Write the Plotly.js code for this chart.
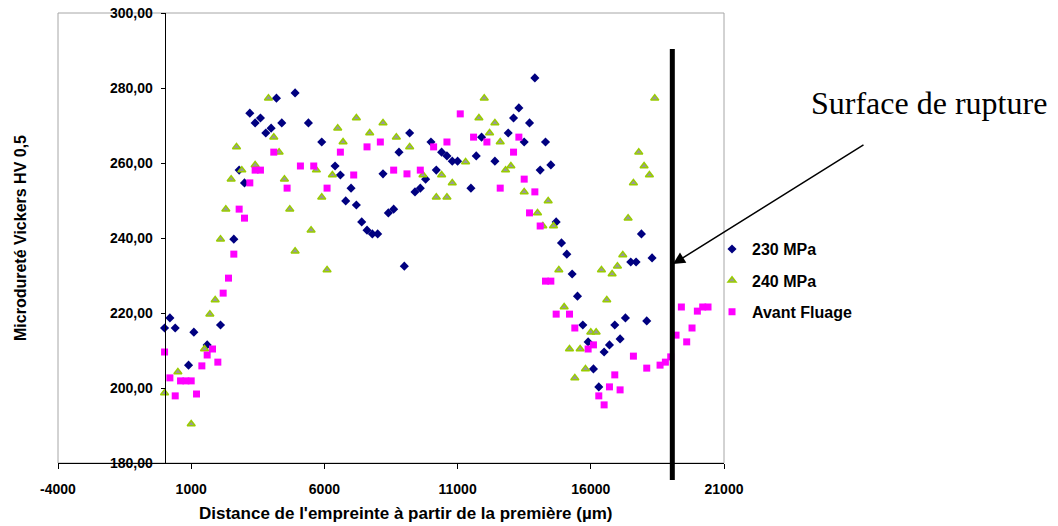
<!DOCTYPE html>
<html>
<head>
<meta charset="utf-8">
<script src="https://cdn.plot.ly/plotly-3.0.1.min.js"></script>
<style>html,body{margin:0;padding:0;background:#fff;}#chart{width:1058px;height:526px;}</style>
</head>
<body>
<div id="chart"></div>
<script>
// ---- Data ----
const x230 = [0,200,400,900,1100,1600,2100,2600,2800,3000,3200,3400,3600,3800,4000,4200,4400,4900,5400,5900,6400,6600,6800,7000,7200,7400,7600,7800,8000,8200,8400,8600,8800,9000,9200,9400,9600,9800,10000,10200,10400,10600,10800,11000,11500,11700,11900,12400,12900,13100,13300,13500,13700,13900,14100,14300,14500,14700,14900,15100,15300,15500,15700,15900,16100,16300,16500,16700,16900,17100,17300,17500,17700,17900,18100,18300];
const y230 = [216.0,218.7,216.0,206.1,214.9,211.5,216.8,239.7,258.1,254.7,273.3,270.7,272.0,268.0,269.3,277.3,270.7,278.7,270.7,265.6,259.2,256.8,249.9,253.3,248.8,244.3,242.1,241.1,241.1,257.1,246.7,247.7,262.9,232.5,268.0,252.3,253.3,255.7,265.6,258.1,262.9,261.9,260.5,260.5,253.3,261.9,266.9,260.5,268.0,272.0,274.7,265.6,270.7,282.7,258.1,265.6,259.5,244.3,238.7,235.7,230.4,224.5,216.8,212.3,205.1,200.3,209.6,211.5,216.8,213.1,218.7,233.6,233.6,241.1,217.9,234.7];

const x240 = [0,500,1000,1500,1700,1900,2100,2300,2500,2700,2900,3400,3900,4100,4300,4500,4700,4900,5500,5700,5900,6100,6300,6500,6700,7200,7700,8200,8700,9200,9700,10200,10400,10600,10800,11300,11800,12000,12200,12400,12600,12800,13000,13500,14000,14200,14400,14600,14800,15000,15200,15400,15600,15800,16000,16200,16400,16600,16800,17000,17200,17400,17600,17800,18000,18200,18400];
const y240 = [198.7,204.3,190.4,210.4,219.7,223.5,239.7,247.7,255.7,264.3,258.1,259.5,277.3,266.9,262.9,255.7,247.7,236.5,242.1,258.1,250.9,231.5,256.8,269.3,265.6,272.0,268.0,270.7,266.9,264.3,256.8,250.9,256.8,250.9,254.7,260.3,272.0,277.3,268.0,270.7,265.6,258.1,259.2,252.3,246.7,243.2,249.9,243.2,231.5,221.6,210.4,202.7,210.4,205.1,214.9,214.9,231.5,223.5,230.4,232.5,235.5,245.3,254.7,262.9,259.2,256.8,277.3];

const xAvant = [0,200,400,600,800,1000,1200,1400,1600,1800,2000,2200,2400,2600,2800,3000,3200,3400,3600,4100,4600,5100,5600,6100,6600,7100,7600,8100,8600,9100,9600,10100,10600,11100,11600,12100,12600,13100,13300,13500,13700,13900,14100,14300,14500,14700,15200,15400,15900,16100,16300,16500,16700,16900,17100,17600,18100,18600,18800,19000,19200,19400,19600,19800,20000,20200,20400];
const yAvant = [209.6,202.7,197.9,201.9,201.9,201.9,198.4,205.9,208.8,210.4,206.9,225.3,229.3,235.7,247.7,245.3,254.7,258.1,258.1,262.9,253.3,259.2,259.2,253.3,262.9,256.8,264.3,265.6,258.1,257.1,258.1,264.3,265.6,273.1,266.9,265.6,253.3,262.9,266.9,255.7,246.7,252.3,243.2,228.5,228.5,219.7,219.7,216.0,210.4,211.5,197.9,195.5,200.3,203.5,199.5,208.5,205.3,206.1,206.9,208.3,214.1,221.6,212.3,216.0,220.5,221.6,221.6];

const seriesNames = ['230 MPa', '240 MPa', 'Avant Fluage'];
const xRange = [-4000, 21000];
const yRange = [180, 300];
const xTickVals = [-4000, 1000, 6000, 11000, 16000, 21000];
const xTickText = ['-4000', '1000', '6000', '11000', '16000', '21000'];
const yTickStep = 20;
const ruptureX = 19060;
const xTitle = "Distance de l'empreinte à partir de la première (µm)";
const yTitle = 'Microdureté Vickers HV 0,5';
const ruptureLabel = 'Surface de rupture';

// ---- Chart ----
const bold = {family: 'Liberation Sans, Arial, sans-serif', size: 14, color: '#000', weight: 'bold'};

const traces = [
  {x: x230, y: y230, name: seriesNames[0], type: 'scatter', mode: 'markers', legendgroup: 'a',
   marker: {symbol: 'diamond', size: 7, color: '#000080', line: {width: 0}}},
  {x: x240, y: y240, name: seriesNames[1], type: 'scatter', mode: 'markers', legendgroup: 'b',
   marker: {symbol: 'triangle-up', size: 7, color: '#999999', line: {width: 1.5, color: '#99CC00'}}},
  {x: xAvant, y: yAvant, name: seriesNames[2], type: 'scatter', mode: 'markers', legendgroup: 'c',
   marker: {symbol: 'square', size: 7, color: '#FF00FF', line: {width: 0}}}
];

const yAxisPos = (0 - xRange[0]) / (xRange[1] - xRange[0]);
const ruptPaper = (ruptureX - xRange[0]) / (xRange[1] - xRange[0]);

const layout = {
  width: 1058, height: 526,
  margin: {l: 58, r: 334, t: 13, b: 63},
  paper_bgcolor: '#fff', plot_bgcolor: '#fff',
  separators: ', ',
  showlegend: true,
  legend: {x: 0.982, y: 0.513, xanchor: 'left', yanchor: 'top', bgcolor: 'rgba(0,0,0,0)',
           borderwidth: 0, tracegroupgap: 7.5, font: Object.assign({}, bold, {size: 16})},
  xaxis: {
    range: xRange, tickmode: 'array', tickvals: xTickVals, ticktext: xTickText,
    showgrid: false, zeroline: false, showline: true, linecolor: '#000', linewidth: 1,
    ticks: 'outside', ticklen: 5, tickcolor: '#000', ticklabelstandoff: 8,
    tickfont: bold
  },
  yaxis: {
    range: yRange, dtick: yTickStep, tickformat: '.2f',
    anchor: 'free', position: yAxisPos,
    showgrid: false, zeroline: false, showline: true, linecolor: '#000', linewidth: 1,
    ticks: 'outside', ticklen: 4, tickcolor: '#000', ticklabelstandoff: 5,
    tickfont: bold,
    title: {text: yTitle, font: Object.assign({}, bold, {size: 16}), standoff: 78}
  },
  shapes: [
    {type: 'rect', xref: 'paper', yref: 'paper', x0: 0, x1: 1, y0: 0, y1: 1,
     line: {color: '#a6a6a6', width: 1}, layer: 'below'},
    {type: 'line', xref: 'paper', yref: 'paper', x0: ruptPaper, x1: ruptPaper, y0: -0.038, y1: 0.92,
     line: {color: '#000', width: 5}}
  ],
  annotations: [
    {xref: 'paper', yref: 'paper', x: 0.5225, y: -0.113, xanchor: 'center', yanchor: 'middle',
     text: xTitle, showarrow: false, font: Object.assign({}, bold, {size: 17})},
    {xref: 'paper', yref: 'paper', x: 1.128, y: 0.80, xanchor: 'left', yanchor: 'middle',
     text: ruptureLabel, showarrow: false,
     font: {family: 'Liberation Serif, Times New Roman, serif', size: 32, color: '#000'}},
    {xref: 'paper', yref: 'paper', x: 0.9234, y: 0.4422, text: '', showarrow: true,
     ax: 192, ay: -120, arrowhead: 2, arrowsize: 1.6, arrowwidth: 1.5, arrowcolor: '#000', standoff: 0}
  ]
};

Plotly.newPlot('chart', traces, layout, {displayModeBar: false, staticPlot: true});
</script>
</body>
</html>
